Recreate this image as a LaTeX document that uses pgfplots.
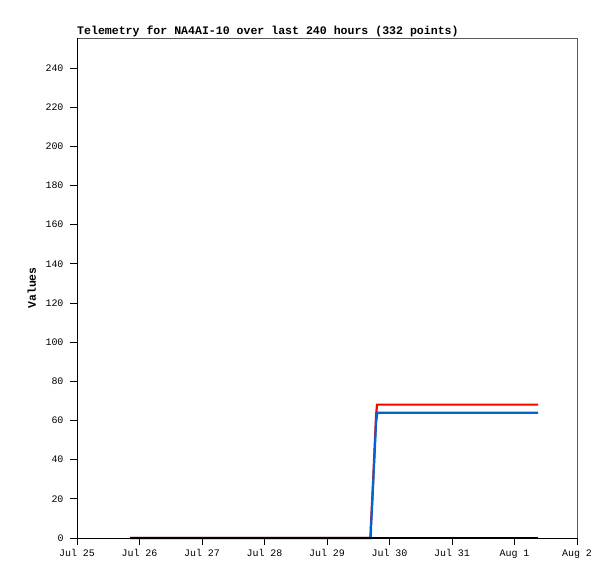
\documentclass[border=0pt]{standalone}
\usepackage{pgfplots}
\pgfplotsset{compat=1.18}
\usepackage{fontspec}
\setmainfont{Liberation Mono}
\definecolor{tred}{RGB}{255,0,0}
\definecolor{tblue}{RGB}{0,102,204}
\begin{document}
\begin{tikzpicture}
\useasboundingbox (-77bp,-41bp) rectangle (538bp,538bp);
\begin{axis}[
  scale only axis,
  width=500bp, height=500bp,
  xmin=0, xmax=8,
  ymin=0, ymax=255.3,
  xtick={0,1,2,3,4,5,6,7,8},
  xticklabels={Jul 25,Jul 26,Jul 27,Jul 28,Jul 29,Jul 30,Jul 31,Aug 1,Aug 2},
  ytick={0,20,...,240},
  xtick pos=bottom, ytick pos=left,
  tick align=outside,
  major tick length=7bp,
  tick style={black, line width=0.8bp},
  axis line style={draw=none},
  ticklabel style={font=\fontsize{10}{12}\selectfont},
  xticklabel style={yshift=-1bp},
  yticklabel style={xshift=-3bp},
  /pgf/number format/assume math mode=true,
  ylabel={\textbf{Values}},
  ylabel style={font=\fontsize{11.5}{13}\selectfont, at={(axis description cs:-0.0906,0.5)}, anchor=center},
  clip=false,
]
\addplot[tred, line width=2.2bp] coordinates {
(0.85,0) (4.695,0) (4.70,5) (4.72,17.4) (4.737,28.4) (4.753,39.8) (4.769,51) (4.785,62.3) (4.80,68.1) (7.38,68.1)};
\addplot[tblue, line width=2.2bp] coordinates {
(0.85,0) (4.70,0) (4.705,5.8) (4.721,16) (4.737,26.6) (4.753,37.3) (4.769,47.8) (4.785,58.9) (4.806,64) (7.38,64)};
\addplot[black, line width=2.6bp] coordinates {(0.85,0) (2,0) (4,0) (6,0) (7.38,0)};
\draw[gray!70!black, line width=0.9bp] (rel axis cs:0,1) -- (rel axis cs:1,1) -- (rel axis cs:1,0);
\draw[black, line width=0.9bp] (rel axis cs:0,1) -- (rel axis cs:0,0) -- (rel axis cs:1,0);
\node[anchor=base west, font=\bfseries\fontsize{11.6}{13}\selectfont, inner sep=0pt] at ([yshift=3bp]rel axis cs:0,1) {Telemetry for NA4AI-10 over last 240 hours (332 points)};
\end{axis}
\end{tikzpicture}
\end{document}
